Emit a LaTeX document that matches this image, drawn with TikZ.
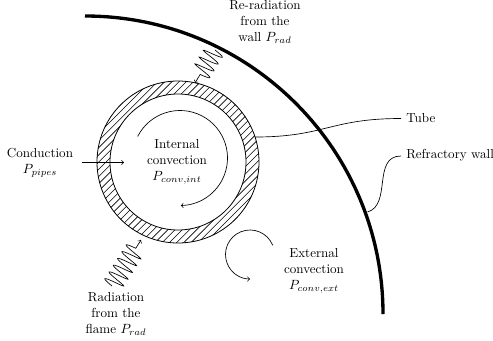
\documentclass[tikz,border=0pt]{standalone}
\usetikzlibrary{decorations.pathmorphing,arrows,patterns}
\tikzset{
  lbl/.style={align=center,inner sep=0pt,font=\fontsize{9.8}{12}\selectfont},
  leader/.style={line width=0.5pt},
  hatchline/.style={line width=0.45pt},
  ringline/.style={line width=0.6pt},
  flow/.style={line width=0.5pt,->,>=to},
  coilflow/.style={line width=0.5pt,->,>=to,decorate,decoration={coil,aspect=0.03,segment length=6,amplitude=7.5,pre length=0,post length=5}}
}
\begin{document}
\begin{tikzpicture}[x=0.75pt,y=-0.75pt]
\useasboundingbox (0,0) rectangle (493,340);
\coordinate (c) at (178,162);
% single 45-degree hatching of the ring
\begin{scope}[even odd rule]
  \clip (c) circle[radius=81] (c) circle[radius=68];
  \foreach \k in {-30,...,30} {
    \draw[hatchline] ({178+7.2*\k-100},{162+100}) -- ({178+7.2*\k+100},{162-100});
  }
\end{scope}
\draw[ringline] (c) circle[radius=81];
\draw[ringline] (c) circle[radius=68];
% wall
\draw[line width=2.5pt] (85,16) arc[start angle=-90,end angle=0,radius=298];
% internal and external convection
\coordinate (ic) at (180,158);
\coordinate (ec) at (250,254.5);
\draw[flow] (ic) ++(207:47.5) arc[start angle=207,end angle=449,radius=47.5];
\draw[flow] (ec) ++(-22:24.5) arc[start angle=-22,end angle=-270,radius=24.5];
% labels
\node[lbl] (reradlabel) at (265,22) {Re-radiation\\from the\\wall \(P_{rad}\)};
\node[lbl] (condlabel) at (40,163) {Conduction\\\(P_{pipes}\)};
\node[lbl] (intlabel) at (177,162) {Internal\\convection\\\(P_{conv,int}\)};
\node[lbl] (radlabel) at (116,314) {Radiation\\from the\\flame \(P_{rad}\)};
\node[lbl] (extlabel) at (314,271) {External\\convection\\\(P_{conv,ext}\)};
\node[lbl,anchor=west] (tubelabel) at (406,118) {Tube};
\node[lbl,anchor=west] (walllabel) at (406,155.5) {Refractory wall};
% connectors
\coordinate (condstart) at (82,162.5);
\coordinate (condend) at (124,162.5);
\draw[flow] (condstart) -- (condend);
\coordinate (tubepoint) at (255,137);
\coordinate (tubeend) at (401,118.5);
\draw[leader] (tubepoint) .. controls (325,137) and (330,118.5) .. (tubeend);
\coordinate (wallpoint) at (367.5,212);
\coordinate (wallend) at (401,156);
\draw[leader] (wallpoint) .. controls (392,205) and (372,156) .. (wallend);
% radiation coils
\coordinate (coilAa) at (215,50);
\coordinate (coilAb) at (195,83);
\coordinate (coilBa) at (112,286);
\coordinate (coilBb) at (141,240);
\draw[coilflow] (coilAa) -- (coilAb);
\draw[coilflow] (coilBa) -- (coilBb);
\end{tikzpicture}
\end{document}
